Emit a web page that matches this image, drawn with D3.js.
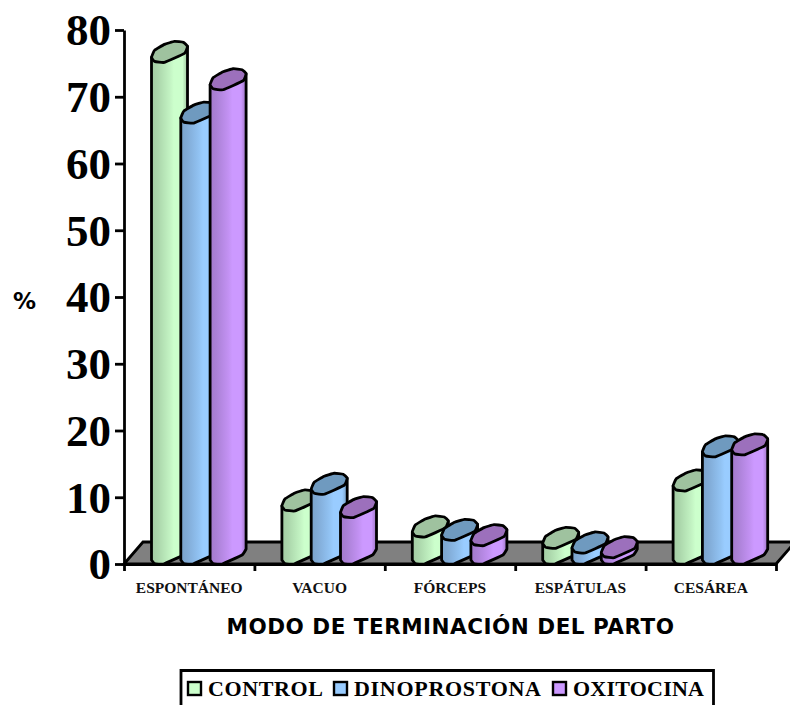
<!DOCTYPE html>
<html>
<head>
<meta charset="utf-8">
<script src="https://cdn.jsdelivr.net/npm/d3@7"></script>
<style>
  html, body { margin: 0; padding: 0; background: #fff; overflow: hidden; }
  svg { display: block; }
</style>
</head>
<body>
<svg id="chart" width="790" height="705"></svg>
<script>
// Delivery mode percentages by induction group
const categories = ["ESPONTÁNEO", "VACUO", "FÓRCEPS", "ESPÁTULAS", "CESÁREA"];
const seriesNames = ["CONTROL", "DINOPROSTONA", "OXITOCINA"];
const control = [75.3, 8.1, 4.2, 2.5, 11.1];
const dinoprostona = [66.2, 10.6, 3.7, 1.8, 16.2];
const oxitocina = [71.2, 7.1, 2.9, 1.1, 16.5];
const yTicks = [0, 10, 20, 30, 40, 50, 60, 70, 80];
const seriesColors = ["#CCFFCC", "#99CCFF", "#CC99FF"];
const capColors = ["#9FC29F", "#6F9ABF", "#9C70BC"];

const allSeries = [control, dinoprostona, oxitocina];
const svg = d3.select("#chart");
const serif = "'Liberation Serif', serif";
const sans = "'DejaVu Sans', sans-serif";
const outline = 2.8;

const plot = { left: 124, right: 776, top: 30, bottom: 564 };
const y = d3.scaleLinear().domain([0, 80]).range([plot.bottom, plot.top]);
const xGroup = d3.scaleBand().domain(categories).range([plot.left, plot.right]);
const xBar = d3.scaleBand().domain(seriesNames).range([27.5, 27.5 + 29.3 * 3]);

// Horizontal shading across each cylinder
const defs = svg.append("defs");
const shade = [[0, .80], [.18, .84], [.36, .90], [.5, .95], [.62, 1], [.86, 1], [.93, .88], [1, .76]];
seriesColors.forEach((c, i) => {
  const g = defs.append("linearGradient").attr("id", "cyl" + i);
  shade.forEach(([o, k]) => {
    const col = d3.rgb(c);
    g.append("stop").attr("offset", o)
      .attr("stop-color", d3.rgb(col.r * k, col.g * k, col.b * k).formatHex());
  });
});

// Floor of the 3D plot
const floorDepth = { x: 19, y: -22 };
svg.append("path")
  .attr("d", d3.line()([
    [plot.left, plot.bottom],
    [plot.left + floorDepth.x, plot.bottom + floorDepth.y],
    [plot.right + floorDepth.x, plot.bottom + floorDepth.y],
    [plot.right, plot.bottom]
  ]) + "Z")
  .attr("fill", "#808080").attr("stroke", "#000").attr("stroke-width", outline);

// Oblique cylinder outline: cap rim relative to its leftmost point
const capRim = [[0, 0], [3, 4], [13, 5], [33, -4], [36, -11], [32, -15], [23, -16], [13, -13], [3, -7]];
const rimLine = d3.line().curve(d3.curveCardinalClosed.tension(0.65));
const front = [[0, 0], [3, 3.5], [12, 4], [32, -5], [36, -11]];
const frontLine = d3.line().curve(d3.curveCardinal.tension(0.65));
const baseOffset = -4;

seriesNames.forEach((name, s) => {
  const g = svg.append("g").attr("class", "series");
  categories.forEach((cat, c) => {
    const x0 = xGroup(cat) + xBar(name);
    const yTop = y(allSeries[s][c]) + baseOffset;
    const yBase = y(0) + baseOffset;
    const bottom = frontLine(front.map(([dx, dy]) => [x0 + dx, yBase + dy]));
    const body = `M${x0},${yTop}L${x0},${yBase}` + bottom.replace(/^M[^CL]*/, "") +
      `L${x0 + 36},${yTop - 11}Z`;
    g.append("path").attr("d", body)
      .attr("fill", `url(#cyl${s})`).attr("stroke", "#000")
      .attr("stroke-width", outline).attr("stroke-linejoin", "round");
    g.append("path")
      .attr("d", rimLine(capRim.map(([dx, dy]) => [x0 + dx, yTop + dy])))
      .attr("fill", capColors[s]).attr("stroke", "#000")
      .attr("stroke-width", outline).attr("stroke-linejoin", "round");
  });
});

// Value axis
const yAxis = svg.append("g").attr("transform", `translate(${plot.left},0)`)
  .call(d3.axisLeft(y).tickValues(yTicks).tickSize(9).tickPadding(4).tickSizeOuter(0));
yAxis.selectAll("line, path").attr("stroke", "#000").attr("stroke-width", outline);
yAxis.selectAll("text")
  .attr("font-family", serif).attr("font-weight", "bold")
  .attr("font-size", 45).attr("fill", "#000").attr("dy", "0.33em");

// Category axis: ticks on the group boundaries, labels at the centres
const xEdges = d3.scaleLinear().domain([0, categories.length]).range([plot.left, plot.right]);
const xTicks = svg.append("g").attr("transform", `translate(0,${plot.bottom})`)
  .call(d3.axisBottom(xEdges).tickValues(d3.range(categories.length + 1))
    .tickSize(7).tickSizeOuter(0).tickFormat(""));
xTicks.selectAll("line, path").attr("stroke", "#000").attr("stroke-width", outline);

const xLabels = svg.append("g").attr("transform", `translate(0,${plot.bottom})`)
  .call(d3.axisBottom(xGroup).tickSize(0).tickPadding(18));
xLabels.select(".domain").remove();
xLabels.selectAll("text")
  .attr("font-family", serif).attr("font-weight", "bold")
  .attr("font-size", 15.5).attr("fill", "#111");

// Axis titles
svg.append("text").attr("x", 450.5).attr("y", 634).attr("text-anchor", "middle")
  .attr("font-family", sans).attr("font-weight", "bold").attr("font-size", 21.5)
  .attr("letter-spacing", 0.5).text("MODO DE TERMINACIÓN DEL PARTO");
svg.append("text").attr("x", 24.5).attr("y", 309).attr("text-anchor", "middle")
  .attr("font-family", sans).attr("font-weight", "bold").attr("font-size", 23).text("%");

// Legend
svg.append("path").attr("d", "M181,705V670.5H713.5V705")
  .attr("fill", "none").attr("stroke", "#000").attr("stroke-width", outline);
const legendX = [187, 333, 552];
const legendTextW = [115, 187, 131];
seriesNames.forEach((name, i) => {
  const g = svg.append("g").attr("transform", `translate(${legendX[i]},0)`);
  g.append("rect").attr("x", 1).attr("y", 682).attr("width", 13).attr("height", 13)
    .attr("fill", seriesColors[i]).attr("stroke", "#000").attr("stroke-width", 2.4);
  g.append("text").attr("x", 21).attr("y", 696)
    .attr("font-family", serif).attr("font-weight", "bold").attr("font-size", 22)
    .attr("textLength", legendTextW[i]).attr("lengthAdjust", "spacing").text(name);
});
</script>
</body>
</html>
